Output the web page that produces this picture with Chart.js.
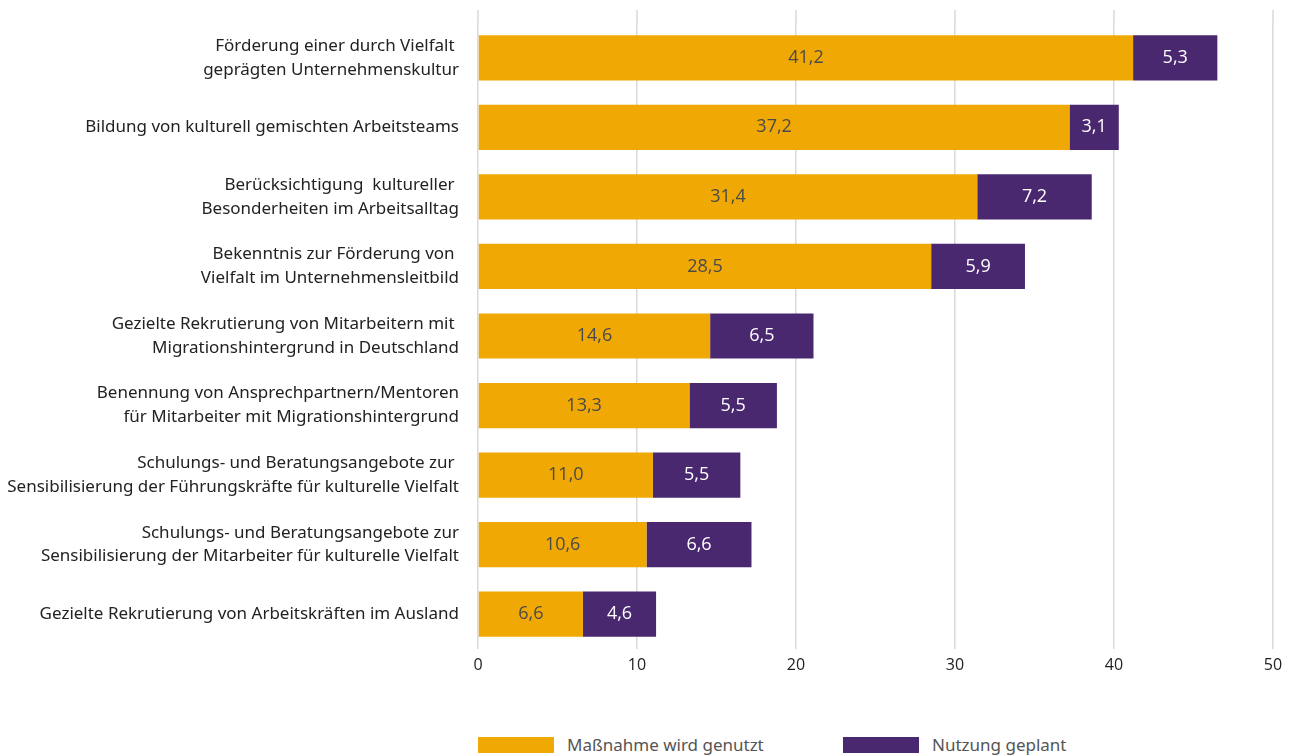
<!DOCTYPE html>
<html>
<head>
<meta charset="utf-8">
<script src="https://cdn.jsdelivr.net/npm/chart.js@4/dist/chart.umd.min.js"></script>
<style>
  body { margin: 0; background: #fff; overflow: hidden; }
  #wrap { position: relative; width: 1293px; height: 756px; }
  #legend { position: absolute; left: 0; top: 737px; font-family: "Noto Sans", sans-serif; font-size: 17px; color: #555; }
  .item { position: absolute; top: 0; white-space: nowrap; }
  .box { position: absolute; top: 0; width: 76px; height: 16px; }
  .txt { position: absolute; top: -4px; }
</style>
</head>
<body>
<div id="wrap">
  <canvas id="chart" width="1293" height="700"></canvas>
  <div id="legend"></div>
</div>
<script>
var categories = [
    ["Förderung einer durch Vielfalt ", "geprägten Unternehmenskultur"],
    "Bildung von kulturell gemischten Arbeitsteams",
    ["Berücksichtigung  kultureller ", "Besonderheiten im Arbeitsalltag"],
    ["Bekenntnis zur Förderung von ", "Vielfalt im Unternehmensleitbild"],
    ["Gezielte Rekrutierung von Mitarbeitern mit ", "Migrationshintergrund in Deutschland"],
    ["Benennung von Ansprechpartnern/Mentoren", "für Mitarbeiter mit Migrationshintergrund"],
    ["Schulungs- und Beratungsangebote zur ", "Sensibilisierung der Führungskräfte für kulturelle Vielfalt"],
    ["Schulungs- und Beratungsangebote zur", "Sensibilisierung der Mitarbeiter für kulturelle Vielfalt"],
    "Gezielte Rekrutierung von Arbeitskräften im Ausland"
];
var genutzt = [41.2, 37.2, 31.4, 28.5, 14.6, 13.3, 11.0, 10.6, 6.6];
var geplant = [5.3, 3.1, 7.2, 5.9, 6.5, 5.5, 5.5, 6.6, 4.6];
var xTicks = [0, 10, 20, 30, 40, 50];
var seriesNames = ["Maßnahme wird genutzt", "Nutzung geplant"];

var orange = '#f0a804';
var purple = '#4a2870';

// values inside the bars, German decimal comma
var barLabels = {
    id: 'barLabels',
    afterDatasetsDraw: function (chart) {
        var ctx = chart.ctx;
        ctx.save();
        ctx.font = '18px "Open Sans", sans-serif';
        ctx.textAlign = 'center';
        ctx.textBaseline = 'middle';
        chart.data.datasets.forEach(function (ds, di) {
            ctx.fillStyle = di === 0 ? '#4a4a4a' : '#ffffff';
            chart.getDatasetMeta(di).data.forEach(function (bar, i) {
                var c = bar.getCenterPoint();
                ctx.fillText(ds.data[i].toFixed(1).replace('.', ','), c.x, c.y);
            });
        });
        ctx.restore();
    }
};

// gridlines reach a bit higher than the first bar band
var gridTop = {
    id: 'gridTop',
    beforeDatasetsDraw: function (chart) {
        var ctx = chart.ctx, x = chart.scales.x, top = chart.chartArea.top;
        ctx.save();
        ctx.strokeStyle = '#d9d9d9';
        ctx.lineWidth = 1.5;
        xTicks.forEach(function (v) {
            var px = x.getPixelForValue(v);
            ctx.beginPath();
            ctx.moveTo(px, 10);
            ctx.lineTo(px, top);
            ctx.stroke();
        });
        ctx.restore();
    }
};

var ctx = document.getElementById('chart').getContext('2d');
var chart = new Chart(ctx, {
    type: 'bar',
    data: {
        labels: categories,
        datasets: [{
            label: seriesNames[0],
            data: genutzt,
            backgroundColor: orange,
            barPercentage: 0.65,
            categoryPercentage: 1
        },
        {
            label: seriesNames[1],
            data: geplant,
            backgroundColor: purple,
            barPercentage: 0.65,
            categoryPercentage: 1
        }]
    },
    options: {
        indexAxis: 'y',
        responsive: false,
        animation: false,
        layout: { padding: { top: 23, right: 20, left: 0, bottom: 0 } },
        plugins: {
            legend: { display: false },
            tooltip: { enabled: false }
        },
        scales: {
            x: {
                stacked: true,
                min: 0,
                max: 50,
                afterBuildTicks: function (s) { s.ticks = xTicks.map(function (v) { return { value: v }; }); },
                afterFit: function (s) { s.height = 51; },
                grid: { color: '#d9d9d9', lineWidth: 1.5, drawTicks: false },
                border: { display: false },
                ticks: {
                    padding: 7,
                    color: '#222',
                    font: { family: '"Open Sans", sans-serif', size: 16 }
                }
            },
            y: {
                stacked: true,
                afterFit: function (s) {
                    s.width = 478;
                    s.paddingTop = 0;
                    s.paddingBottom = 0;
                },
                grid: { display: false, drawTicks: false },
                border: { display: false },
                ticks: {
                    padding: 19,
                    color: '#222',
                    font: { family: '"Noto Sans", sans-serif', size: 17, lineHeight: 1.41 }
                }
            }
        }
    },
    plugins: [barLabels, gridTop]
});

// legend below the chart
var legendEl = document.getElementById('legend');
var legendX = [478, 843];
[orange, purple].forEach(function (col, i) {
    var item = document.createElement('div');
    item.className = 'item';
    item.style.left = legendX[i] + 'px';
    item.innerHTML = '<div class="box" style="background:' + col + '"></div>' +
        '<div class="txt" style="left:89px">' + seriesNames[i] + '</div>';
    legendEl.appendChild(item);
});
</script>
</body>
</html>
